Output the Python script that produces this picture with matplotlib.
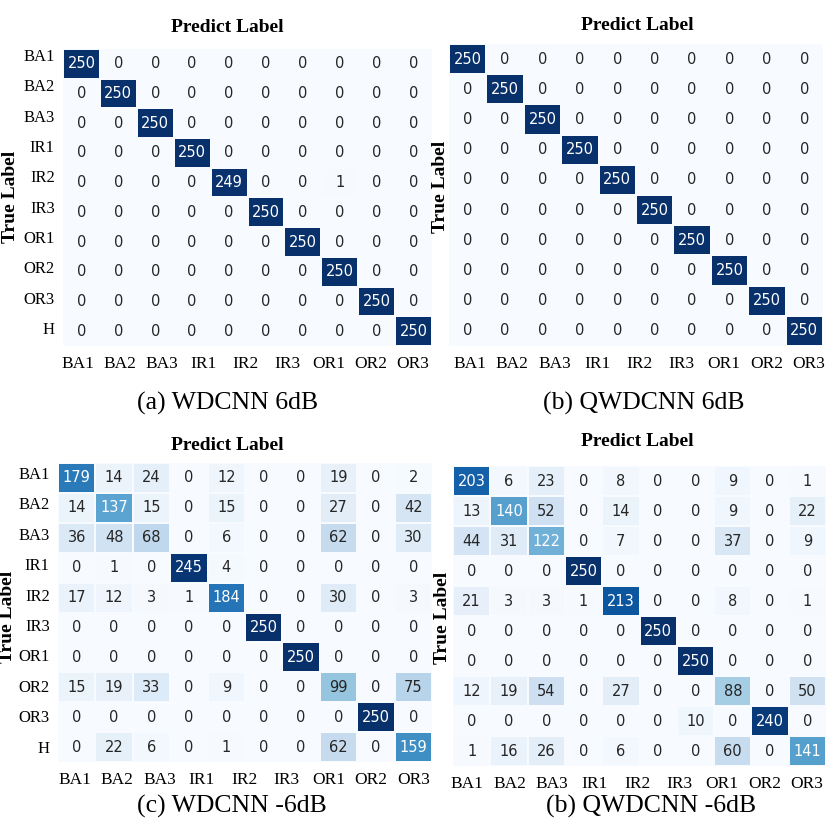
import numpy as np
import matplotlib
matplotlib.use("Agg")
import matplotlib.pyplot as plt
import seaborn as sns

# ---------- data ----------
row_labels = ["BA1", "BA2", "BA3", "IR1", "IR2", "IR3", "OR1", "OR2", "OR3", "H"]
col_labels = ["BA1", "BA2", "BA3", "IR1", "IR2", "IR3", "OR1", "OR2", "OR3"]

cm_wdcnn_6db = [
    [250, 0, 0, 0, 0, 0, 0, 0, 0, 0],
    [0, 250, 0, 0, 0, 0, 0, 0, 0, 0],
    [0, 0, 250, 0, 0, 0, 0, 0, 0, 0],
    [0, 0, 0, 250, 0, 0, 0, 0, 0, 0],
    [0, 0, 0, 0, 249, 0, 0, 1, 0, 0],
    [0, 0, 0, 0, 0, 250, 0, 0, 0, 0],
    [0, 0, 0, 0, 0, 0, 250, 0, 0, 0],
    [0, 0, 0, 0, 0, 0, 0, 250, 0, 0],
    [0, 0, 0, 0, 0, 0, 0, 0, 250, 0],
    [0, 0, 0, 0, 0, 0, 0, 0, 0, 250],
]
cm_qwdcnn_6db = [
    [250, 0, 0, 0, 0, 0, 0, 0, 0, 0],
    [0, 250, 0, 0, 0, 0, 0, 0, 0, 0],
    [0, 0, 250, 0, 0, 0, 0, 0, 0, 0],
    [0, 0, 0, 250, 0, 0, 0, 0, 0, 0],
    [0, 0, 0, 0, 250, 0, 0, 0, 0, 0],
    [0, 0, 0, 0, 0, 250, 0, 0, 0, 0],
    [0, 0, 0, 0, 0, 0, 250, 0, 0, 0],
    [0, 0, 0, 0, 0, 0, 0, 250, 0, 0],
    [0, 0, 0, 0, 0, 0, 0, 0, 250, 0],
    [0, 0, 0, 0, 0, 0, 0, 0, 0, 250],
]
cm_wdcnn_m6db = [
    [179, 14, 24, 0, 12, 0, 0, 19, 0, 2],
    [14, 137, 15, 0, 15, 0, 0, 27, 0, 42],
    [36, 48, 68, 0, 6, 0, 0, 62, 0, 30],
    [0, 1, 0, 245, 4, 0, 0, 0, 0, 0],
    [17, 12, 3, 1, 184, 0, 0, 30, 0, 3],
    [0, 0, 0, 0, 0, 250, 0, 0, 0, 0],
    [0, 0, 0, 0, 0, 0, 250, 0, 0, 0],
    [15, 19, 33, 0, 9, 0, 0, 99, 0, 75],
    [0, 0, 0, 0, 0, 0, 0, 0, 250, 0],
    [0, 22, 6, 0, 1, 0, 0, 62, 0, 159],
]
cm_qwdcnn_m6db = [
    [203, 6, 23, 0, 8, 0, 0, 9, 0, 1],
    [13, 140, 52, 0, 14, 0, 0, 9, 0, 22],
    [44, 31, 122, 0, 7, 0, 0, 37, 0, 9],
    [0, 0, 0, 250, 0, 0, 0, 0, 0, 0],
    [21, 3, 3, 1, 213, 0, 0, 8, 0, 1],
    [0, 0, 0, 0, 0, 250, 0, 0, 0, 0],
    [0, 0, 0, 0, 0, 0, 250, 0, 0, 0],
    [12, 19, 54, 0, 27, 0, 0, 88, 0, 50],
    [0, 0, 0, 0, 0, 0, 10, 0, 240, 0],
    [1, 16, 26, 0, 6, 0, 0, 60, 0, 141],
]

captions = ["(a) WDCNN 6dB", "(b) QWDCNN 6dB", "(c) WDCNN -6dB", "(b) QWDCNN -6dB"]

SERIF = ["Liberation Serif", "DejaVu Serif"]
W = 830.0

def fx(px):
    return px / W

def fy(py):
    return 1 - py / W

fig = plt.figure(figsize=(8.3, 8.3), dpi=100)

# panel boxes in pixels: x0, y0, x1, y1
panels = [
    dict(cm=cm_wdcnn_6db, box=(63, 49, 432, 346), ylab=True, xt=(0.40, 9.48), yt=(0.27, 9.46),
         title=(227, 28), tl=(11, 197), cap=(228, 403)),
    dict(cm=cm_qwdcnn_6db, box=(449, 44, 823, 346), ylab=False, xt=(0.56, 9.62), yt=None,
         title=(637, 26), tl=(440, 187), cap=(644, 403)),
    dict(cm=cm_wdcnn_m6db, box=(58, 463, 432, 762), ylab=True, xt=(0.45, 9.50), yt=(0.40, 9.55),
         title=(227, 445), tl=(8, 617), cap=(232, 806)),
    dict(cm=cm_qwdcnn_m6db, box=(453, 466, 826, 766), ylab=False, xt=(0.38, 9.49), yt=None,
         title=(637, 441), tl=(442, 618), cap=(651, 806)),
]

for p, cap in zip(panels, captions):
    x0, y0, x1, y1 = p["box"]
    ax = fig.add_axes([fx(x0), fy(y1), fx(x1 - x0), (y1 - y0) / W])
    sns.heatmap(np.array(p["cm"]), ax=ax, cmap="Blues", vmin=0, vmax=250, annot=True, fmt="d",
                cbar=False, linewidths=0.15, linecolor="#f7fbff",
                annot_kws={"fontsize": 10.5, "family": "DejaVu Sans"})
    ax.set_xticks(np.linspace(p["xt"][0], p["xt"][1], len(col_labels)))
    ax.set_xticklabels(col_labels, rotation=0, family=SERIF, fontsize=12.5)
    if p["ylab"]:
        ax.set_yticks(np.linspace(p["yt"][0], p["yt"][1], len(row_labels)))
        ax.set_yticklabels(row_labels, rotation=0, family=SERIF, fontsize=12)
    else:
        ax.set_yticks([])
    ax.tick_params(axis="x", length=0, pad=7)
    ax.tick_params(axis="y", length=0, pad=6)
    ax.set_xlabel("")
    ax.set_ylabel("")

    fig.text(fx(p["title"][0]), fy(p["title"][1]), "Predict Label", ha="center", va="center",
             family=SERIF, fontweight="bold", fontsize=14)
    fig.text(fx(p["tl"][0]), fy(p["tl"][1]), "True Label", ha="center", va="center", rotation=90,
             family=SERIF, fontweight="bold", fontsize=14)
    fig.text(fx(p["cap"][0]), fy(p["cap"][1]), cap, ha="center", va="center",
             family=SERIF, fontsize=18.5)

fig.savefig("out.png", dpi=100)
